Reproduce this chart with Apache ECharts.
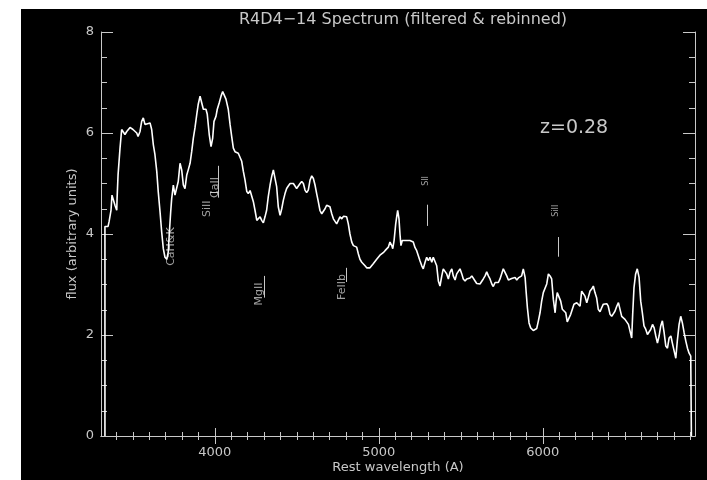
<!DOCTYPE html>
<html><head><meta charset="utf-8">
<script src="https://cdn.jsdelivr.net/npm/echarts@6/dist/echarts.min.js"></script>
<style>html,body{margin:0;padding:0;background:#fff;} #c{width:707px;height:480px;}</style>
</head><body><div id="c"></div>
<script>
const titleText = 'R4D4\u221214 Spectrum (filtered & rebinned)';
const xAxisTitle = 'Rest wavelength (A)';
const yAxisTitle = 'flux (arbitrary units)';
const redshiftLabel = 'z=0.28';
const xTickLabels = [4000, 5000, 6000];
const yTickLabels = [0, 2, 4, 6, 8];

const wavelength = [3330,3330,3349,3355,3367,3373,3382,3391,3402,3404,3410,3422,3432,3440,3452,3463,3483,3501,3524,3532,3544,3554,3564,3574,3585,3605,3615,3625,3635,3646,3655,3666,3676,3686,3696,3707,3716,3723,3731,3737,3747,3757,3768,3777,3788,3798,3808,3818,3829,3838,3849,3859,3869,3879,3890,3899,3910,3920,3930,3946,3954,3966,3977,3987,3995,4007,4015,4027,4038,4048,4058,4068,4082,4093,4103,4113,4123,4143,4154,4164,4174,4184,4195,4204,4215,4225,4235,4245,4256,4265,4276,4286,4296,4306,4316,4326,4337,4347,4357,4367,4377,4387,4398,4408,4418,4428,4438,4448,4459,4469,4479,4489,4499,4509,4520,4530,4540,4550,4560,4570,4581,4591,4601,4611,4621,4631,4641,4652,4662,4672,4682,4692,4702,4713,4723,4733,4743,4753,4763,4774,4784,4794,4804,4814,4824,4835,4845,4855,4865,4875,4885,4896,4906,4916,4926,4946,4957,4966,4977,4987,4997,5007,5018,5027,5038,5048,5058,5068,5079,5085,5093,5103,5109,5115,5123,5129,5135,5143,5154,5170,5190,5210,5221,5231,5241,5251,5262,5271,5282,5292,5302,5312,5323,5332,5343,5353,5363,5373,5384,5393,5404,5414,5424,5434,5445,5454,5465,5475,5485,5495,5506,5515,5526,5536,5546,5556,5567,5576,5587,5597,5617,5627,5637,5648,5658,5668,5678,5689,5698,5709,5719,5729,5739,5749,5759,5770,5780,5790,5800,5810,5820,5831,5841,5851,5861,5871,5881,5892,5898,5906,5916,5926,5942,5952,5963,5973,5983,5993,6003,6013,6024,6034,6044,6054,6064,6075,6081,6088,6099,6109,6119,6129,6140,6149,6160,6170,6180,6190,6207,6216,6227,6237,6247,6257,6268,6277,6288,6298,6308,6318,6328,6338,6349,6359,6369,6379,6390,6399,6410,6420,6430,6440,6451,6461,6471,6481,6491,6501,6512,6522,6532,6542,6548,6556,6566,6576,6587,6597,6607,6617,6628,6638,6648,6658,6669,6679,6689,6699,6709,6719,6729,6740,6750,6760,6770,6781,6790,6801,6811,6820,6831,6841,6851,6862,6872,6882,6892,6902,6906,6906];

const flux = [0,4.15,4.15,4.24,4.47,4.77,4.8,4.57,4.47,4.7,5.17,5.7,6.07,6.1,5.97,6.03,6.11,6.07,6.0,5.93,6.03,6.23,6.3,6.17,6.2,6.2,6.07,5.77,5.57,5.24,4.84,4.44,4.04,3.71,3.54,3.5,3.64,4.04,4.44,4.7,4.97,4.77,4.8,5.04,5.4,5.27,4.97,4.9,5.17,5.27,5.4,5.63,5.9,6.1,6.37,6.57,6.73,6.6,6.47,6.47,6.37,5.97,5.73,5.9,6.23,6.33,6.47,6.6,6.73,6.82,6.8,6.67,6.47,6.17,5.93,5.7,5.63,5.6,5.57,5.44,5.24,5.07,4.84,4.8,4.86,4.84,4.64,4.47,4.27,4.27,4.34,4.27,4.22,4.34,4.47,4.74,4.97,5.14,5.27,5.24,4.94,4.54,4.37,4.5,4.67,4.8,4.9,4.95,5.0,5.01,5.0,5.0,4.9,4.9,5.0,5.04,5.0,4.87,4.82,4.87,5.07,5.15,5.1,4.97,4.8,4.64,4.47,4.4,4.4,4.5,4.57,4.6,4.54,4.4,4.3,4.27,4.2,4.27,4.34,4.3,4.35,4.37,4.34,4.2,4.0,3.84,3.77,3.79,3.74,3.61,3.5,3.44,3.41,3.37,3.33,3.33,3.34,3.41,3.44,3.5,3.54,3.58,3.61,3.63,3.67,3.7,3.74,3.84,3.77,3.71,3.87,4.2,4.34,4.47,4.3,4.0,3.77,3.87,3.9,3.87,3.87,3.84,3.73,3.67,3.57,3.47,3.37,3.31,3.44,3.54,3.47,3.54,3.44,3.54,3.57,3.37,3.07,2.97,3.17,3.31,3.34,3.21,3.11,3.24,3.31,3.17,3.09,3.21,3.24,3.31,3.21,3.11,3.07,3.11,3.09,3.13,3.17,3.15,3.07,3.02,3.01,3.04,3.11,3.17,3.25,3.17,3.11,3.01,2.96,3.04,3.07,3.04,3.11,3.14,3.31,3.34,3.17,3.09,3.11,3.12,3.11,3.14,3.09,3.13,3.11,3.17,3.31,3.14,2.87,2.54,2.24,2.14,2.09,2.11,2.13,2.28,2.44,2.67,2.84,2.87,3.01,3.21,3.17,3.11,2.71,2.44,2.67,2.84,2.87,2.67,2.51,2.51,2.44,2.26,2.28,2.41,2.51,2.61,2.64,2.67,2.57,2.87,2.84,2.77,2.64,2.74,2.87,2.91,2.97,2.84,2.74,2.51,2.46,2.54,2.61,2.64,2.62,2.57,2.41,2.37,2.37,2.47,2.57,2.64,2.61,2.37,2.34,2.31,2.28,2.21,2.18,1.94,2.41,2.94,3.21,3.31,3.14,2.67,2.44,2.18,2.11,2.01,1.98,2.11,2.21,2.14,1.98,1.84,1.98,2.18,2.28,2.04,1.78,1.74,1.94,1.98,1.84,1.68,1.54,1.88,2.21,2.37,2.24,2.04,1.88,1.74,1.64,1.58,1.58,0];

// spectral line identifications: [label, wavelength, flux, fontSize]
const lineLabels = [
  ['CaH&K', 3733, 3.75, 11],
  ['SiII', 3952, 4.50, 11],
  ['CaII', 4004, 4.92, 11],
  ['MgII', 4273, 2.81, 11],
  ['FeIIb', 4779, 2.95, 11],
  ['SII', 5285, 5.05, 8],
  ['SiII', 6080, 4.46, 8]
];
// marker segments: [wave0, flux0, wave1, flux1]
const lineMarkers = [
  [4020, 5.35, 4020, 4.72],
  [3971, 4.82, 4020, 4.82],
  [4300, 3.17, 4300, 2.74],
  [4800, 3.33, 4800, 3.05],
  [5296, 4.58, 5296, 4.16],
  [6095, 3.94, 6095, 3.55]
];

const FG = '#c8c8c8';
const FONT = 'DejaVu Sans';
const X_MIN = 3306, X_MAX = 6928;

const xMinor = [];
for (let v = 3400; v <= 6900; v += 100) if (v % 1000 !== 0) xMinor.push(v);
const yMinor = [];
for (let v = 0.5; v < 8; v += 0.5) if (v % 2 !== 0) yMinor.push(v);

function xAx(pos, ticks, len, showLine, labels) {
  return {
    type: 'value', min: X_MIN, max: X_MAX, position: pos,
    splitLine: {show: false},
    axisLine: {show: showLine, lineStyle: {color: FG, width: 1}},
    axisTick: {show: true, inside: true, length: len, customValues: ticks, lineStyle: {color: FG, width: 1}},
    axisLabel: labels ? {show: true, customValues: labels, formatter: v => String(v), color: FG, fontSize: 13, fontFamily: FONT, margin: 10} : {show: false}
  };
}
function yAx(pos, ticks, len, showLine, labels) {
  return {
    type: 'value', min: 0, max: 8, position: pos,
    splitLine: {show: false},
    axisLine: {show: showLine, lineStyle: {color: FG, width: 1}},
    axisTick: {show: true, inside: true, length: len, customValues: ticks, lineStyle: {color: FG, width: 1}},
    axisLabel: labels ? {show: true, customValues: labels, formatter: v => String(v), color: FG, fontSize: 13, fontFamily: FONT, margin: 7} : {show: false}
  };
}

const chart = echarts.init(document.getElementById('c'), null, {renderer: 'canvas'});
chart.setOption({
  animation: false,
  backgroundColor: '#000',
  title: {
    text: titleText, left: 398, top: 7, textAlign: 'center',
    textStyle: {color: FG, fontSize: 16, fontWeight: 'normal', fontFamily: FONT}
  },
  grid: {left: 101, right: 12, top: 32, bottom: 44, containLabel: false},
  xAxis: [
    xAx('bottom', xTickLabels, 8, true, xTickLabels),
    xAx('bottom', xMinor, 4, false, null),
    xAx('top', xTickLabels, 8, true, null),
    xAx('top', xMinor, 4, false, null)
  ],
  yAxis: [
    yAx('left', yTickLabels, 12, true, yTickLabels),
    yAx('left', yMinor, 6, false, null),
    yAx('right', yTickLabels, 12, true, null),
    yAx('right', yMinor, 6, false, null)
  ],
  graphic: [
    {type: 'rect', left: 0, top: 0, shape: {width: 21, height: 480}, style: {fill: '#fff'}, silent: true},
    {type: 'rect', left: 0, top: 0, shape: {width: 707, height: 9}, style: {fill: '#fff'}, silent: true},
    {type: 'text', x: 398, y: 468, style: {text: xAxisTitle, fill: FG, font: '13px "DejaVu Sans"', textAlign: 'center', textVerticalAlign: 'middle'}},
    {type: 'text', x: 73, y: 234, rotation: Math.PI / 2, style: {text: yAxisTitle, fill: FG, font: '13px "DejaVu Sans"', textAlign: 'center', textVerticalAlign: 'middle'}},
    {type: 'text', x: 540, y: 128, style: {text: redshiftLabel, fill: FG, font: '19px "DejaVu Sans"', textAlign: 'left', textVerticalAlign: 'middle'}}
  ],
  series: [
    {
      type: 'line', xAxisIndex: 0, yAxisIndex: 0,
      data: wavelength.map((w, i) => [w, flux[i]]),
      showSymbol: false, symbol: 'none',
      lineStyle: {color: '#ffffff', width: 1.6},
      markLine: {
        silent: true, symbol: ['none', 'none'], animation: false,
        label: {show: false},
        lineStyle: {color: FG, width: 1, type: 'solid'},
        data: lineMarkers.map(m => [{coord: [m[0], m[1]]}, {coord: [m[2], m[3]]}])
      }
    },
    {
      type: 'scatter', xAxisIndex: 0, yAxisIndex: 0,
      symbolSize: 1, itemStyle: {color: 'transparent'}, silent: true,
      data: lineLabels.map(l => ({name: l[0], value: [l[1], l[2]], label: {fontSize: l[3]}})),
      label: {show: true, formatter: '{b}', rotate: 90, position: 'inside', align: 'center', verticalAlign: 'middle', color: FG, fontFamily: FONT}
    }
  ]
});
</script></body></html>
